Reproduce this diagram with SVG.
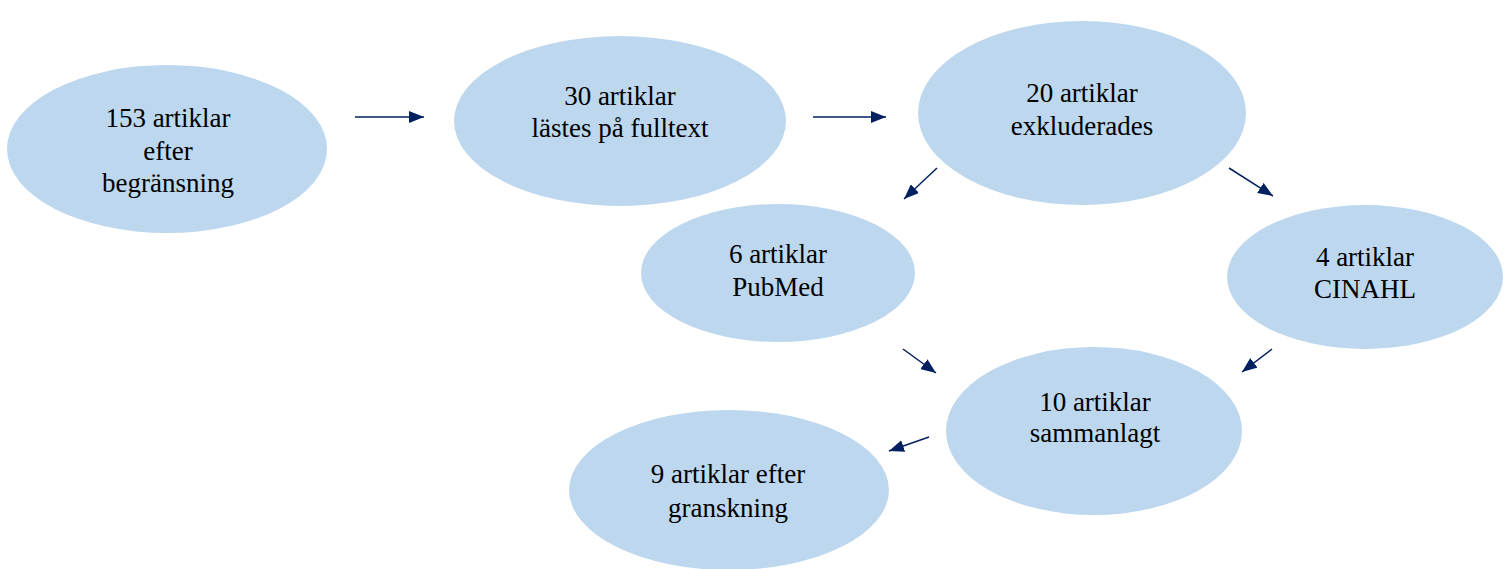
<svg xmlns="http://www.w3.org/2000/svg" width="1504" height="569" viewBox="0 0 1504 569">
<style>
.n{fill:#BDD7EE}
.t{font-family:"Liberation Serif","Times New Roman",serif;font-size:27px;fill:#000;text-anchor:middle}
.c{stroke:#002060;stroke-width:1.5;fill:none;marker-end:url(#ah)}
</style>
<defs>
<marker id="ah" viewBox="0 0 10 10" refX="10" refY="5" markerWidth="15" markerHeight="12" markerUnits="userSpaceOnUse" orient="auto" preserveAspectRatio="none">
<path d="M0,0 L10,5 L0,10 Z" fill="#002060"/>
</marker>
</defs>
<rect width="1504" height="569" fill="#fff"/>
<g id="n1"><ellipse class="n" cx="167" cy="149" rx="160" ry="84"/>
<text class="t" x="168" y="127">153 artiklar</text><text class="t" x="168" y="160">efter</text><text class="t" x="168" y="192">begränsning</text></g>
<g id="n2"><ellipse class="n" cx="620" cy="121" rx="166" ry="85"/>
<text class="t" x="620" y="105">30 artiklar</text><text class="t" x="620" y="137">lästes på fulltext</text></g>
<g id="n3"><ellipse class="n" cx="1082" cy="113" rx="164" ry="92"/>
<text class="t" x="1082" y="102">20 artiklar</text><text class="t" x="1082" y="135">exkluderades</text></g>
<g id="n4"><ellipse class="n" cx="778" cy="273" rx="137" ry="69"/>
<text class="t" x="778" y="263">6 artiklar</text><text class="t" x="778" y="296">PubMed</text></g>
<g id="n5"><ellipse class="n" cx="1365" cy="277" rx="138" ry="72"/>
<text class="t" x="1365" y="266">4 artiklar</text><text class="t" x="1365" y="298">CINAHL</text></g>
<g id="n6"><ellipse class="n" cx="1094" cy="431" rx="148" ry="84"/>
<text class="t" x="1095" y="411">10 artiklar</text><text class="t" x="1095" y="442">sammanlagt</text></g>
<g id="n7"><ellipse class="n" cx="729" cy="490" rx="160" ry="80"/>
<text class="t" x="728" y="483">9 artiklar efter</text><text class="t" x="728" y="517">granskning</text></g>
<g id="connectors">
<line class="c" x1="355" y1="117" x2="424" y2="117"/>
<line class="c" x1="813" y1="117" x2="886" y2="117"/>
<line class="c" x1="937" y1="168" x2="904" y2="199"/>
<line class="c" x1="1229" y1="168" x2="1273" y2="196"/>
<line class="c" x1="903" y1="349" x2="936" y2="373"/>
<line class="c" x1="1272" y1="349" x2="1242" y2="372"/>
<line class="c" x1="929" y1="437" x2="889" y2="451"/>
</g>
</svg>
